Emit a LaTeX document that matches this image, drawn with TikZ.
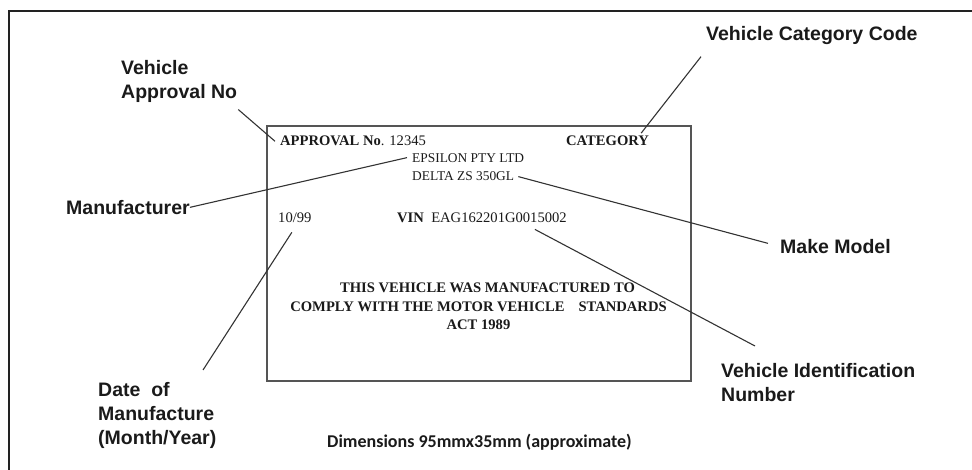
\documentclass[tikz,border=0pt]{standalone}
\usepackage{fontspec}
\setmainfont{Liberation Serif}
\setsansfont{Liberation Sans}
\newfontfamily\calib{Carlito}
\definecolor{frame}{HTML}{222222}
\definecolor{plateline}{HTML}{555555}
\definecolor{leader}{HTML}{333333}
\definecolor{ink}{HTML}{1A1A1A}
\tikzset{
  lbl/.style={inner sep=0pt, anchor=north west, align=left, text=ink,
    font=\sffamily\bfseries\fontsize{19.5}{24}\selectfont},
  platetxt/.style={inner sep=0pt, anchor=base west, text=ink,
    font=\fontsize{14.6}{17}\selectfont},
  smalltxt/.style={inner sep=0pt, anchor=base west, text=ink,
    font=\fontsize{13.4}{16}\selectfont},
  bodytxt/.style={inner sep=0pt, anchor=base, text=ink,
    font=\bfseries\fontsize{14.6}{17}\selectfont},
  leaderline/.style={draw=leader, line width=1.1pt},
}
\begin{document}
\begin{tikzpicture}[x=1pt,y=-1pt]
\useasboundingbox (0,0) rectangle (972,470);
% outer frame (cropped)
\draw[frame, line width=2.3pt] (985,11) -- (9,11) -- (9,485);
% plate
\draw[plateline, line width=1.2pt] (267,126) rectangle (691,381);

% plate texts
\node[platetxt] (appr) at (280,146) {\textbf{APPROVAL No}. 12345};
\node[platetxt] (cat) at (566,146) {\textbf{CATEGORY}};
\node[smalltxt] (eps) at (412,163) {EPSILON PTY LTD};
\node[smalltxt] (delta) at (412,181) {DELTA ZS 350GL};
\node[platetxt] (date10) at (278,223) {10/99};
\node[platetxt] (vin) at (397,223) {\textbf{VIN}\ \ EAG162201G0015002};
\node[bodytxt] (body1) at (487.5,293) {THIS VEHICLE WAS MANUFACTURED TO};
\node[bodytxt] (body2) at (478.5,311.5) {COMPLY WITH THE MOTOR VEHICLE\hspace{14pt}STANDARDS};
\node[bodytxt] (body3) at (478.5,329.5) {ACT 1989};

% labels
\node[lbl] (lblAppr) at (121,60) {Vehicle\\Approval No};
\node[lbl] (lblManu) at (66,200) {Manufacturer};
\node[lbl] (lblCat) at (706,26) {Vehicle Category Code};
\node[lbl] (lblMake) at (780,239) {Make Model};
\node[lbl] (lblVIN) at (721,363) {Vehicle Identification\\Number};
\node[lbl] (lblDate) at (98,382) {Date\ \ of\\Manufacture\\(Month/Year)};
\node[inner sep=0pt, anchor=base west, text=ink, font=\calib\bfseries\fontsize{18}{21}\selectfont]
  (dims) at (327,447) {Dimensions 95mmx35mm (approximate)};

% leader lines
\draw[leaderline] ([xshift=1pt,yshift=-7pt]lblAppr.south east) -- ([xshift=-5pt]appr.west);
\draw[leaderline] (lblManu.east) -- ([xshift=-5pt,yshift=1pt]eps.west);
\draw[leaderline] ([xshift=-5pt,yshift=-12pt]lblCat.south west) -- ([xshift=-8pt,yshift=3pt]cat.north east);
\draw[leaderline] ([xshift=4pt]delta.east) -- ([xshift=-12pt,yshift=3pt]lblMake.west);
\draw[leaderline] ([xshift=-32pt,yshift=-6pt]vin.south east) -- ([xshift=34pt,yshift=17pt]lblVIN.north west);
\draw[leaderline] ([xshift=-3pt,yshift=-9pt]date10.south) -- ([xshift=105pt,yshift=12pt]lblDate.north west);
\end{tikzpicture}
\end{document}
